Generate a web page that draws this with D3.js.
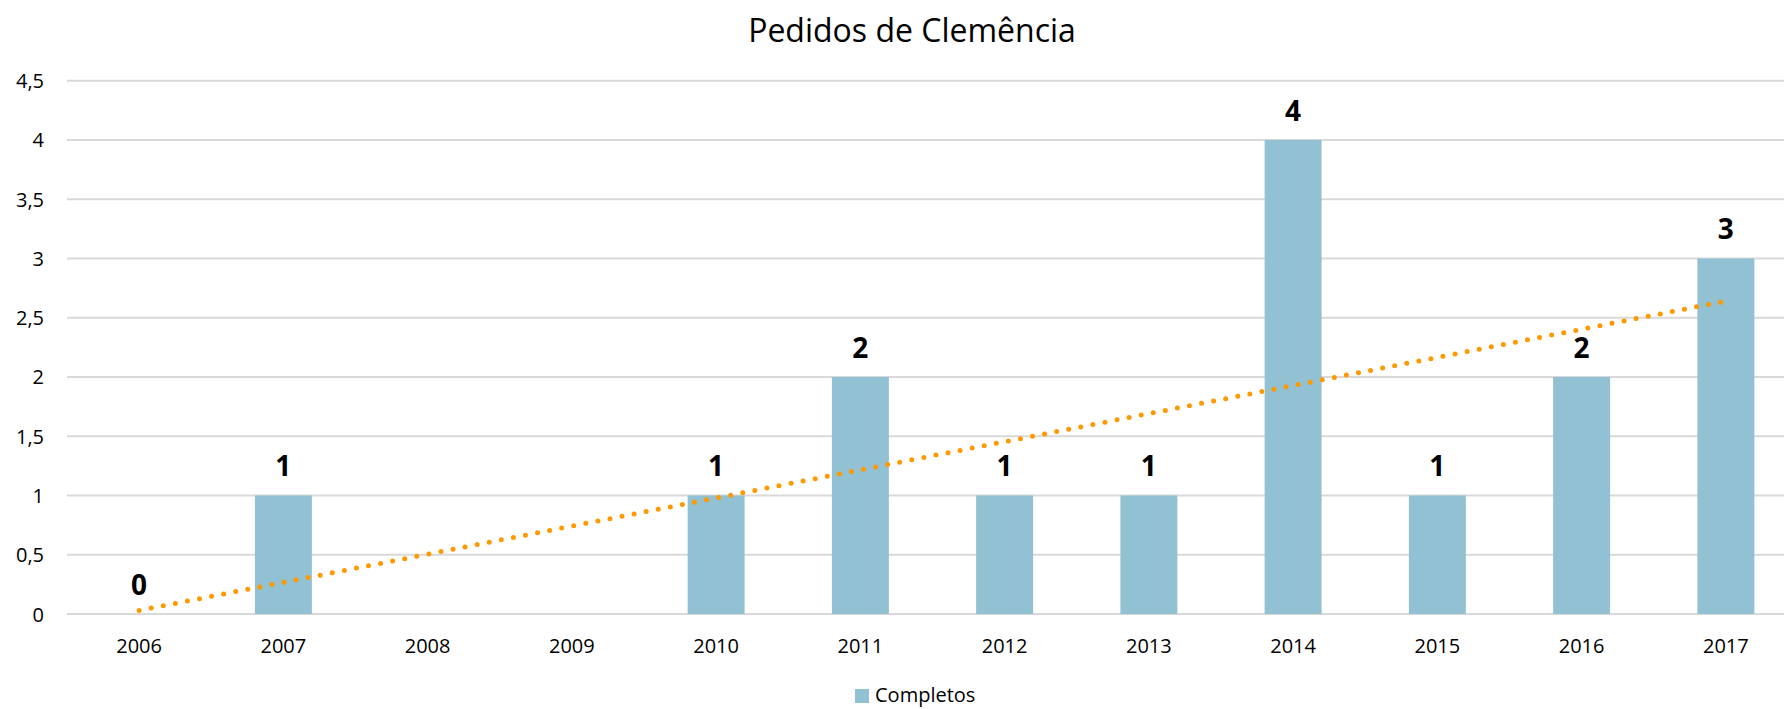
<!DOCTYPE html>
<html>
<head>
<meta charset="utf-8">
<script src="https://cdnjs.cloudflare.com/ajax/libs/d3/7.8.5/d3.min.js"></script>
<style>
  body { margin: 0; background: #fff; }
  svg text { font-family: "Open Sans", "Liberation Sans", sans-serif; fill: #000; }
</style>
</head>
<body>
<div id="chart"></div>
<script>
// datos
const years = ['2006','2007','2008','2009','2010','2011','2012','2013','2014','2015','2016','2017']
const completos = [0, 1, 0, 0, 1, 2, 1, 1, 4, 1, 2, 3]
const labelYears = ['2006','2007','2010','2011','2012','2013','2014','2015','2016','2017']
const yTicks = [0, 0.5, 1, 1.5, 2, 2.5, 3, 3.5, 4, 4.5]
// tendencia lineal (extremos)
const trendYears = ['2006', '2017']
const trendValues = [0.03, 2.64]

const width = 1784
const height = 709
const margin = { top: 80, right: -14, bottom: 95, left: 67 }

const svg = d3.select('#chart').append('svg').attr('width', width).attr('height', height)

const x = d3.scaleBand().domain(years).range([margin.left, width - margin.right]).paddingInner(0).paddingOuter(0)
const barW = x.bandwidth() * 0.395
const y = d3.scaleLinear().domain([0, 4.5]).range([height - margin.bottom, margin.top + 0.7])

// titulo
svg.append('text')
    .attr('x', 912).attr('y', 42)
    .attr('text-anchor', 'middle')
    .style('font-size', '32px')
    .text('Pedidos de Clemência')

// rejilla
const grid = svg.append('g').attr('class', 'grid')
grid.selectAll('line').data(yTicks).enter().append('line')
    .attr('x1', margin.left).attr('x2', width)
    .attr('y1', d => y(d)).attr('y2', d => y(d))
    .attr('stroke', '#d9d9d9').attr('stroke-width', 2)

// eje y
const yAxis = d3.axisLeft(y).tickValues(yTicks).tickSize(0).tickPadding(0)
    .tickFormat(d => String(d).replace('.', ','))
svg.append('g').attr('transform', `translate(44,0)`).call(yAxis)
    .call(g => g.select('.domain').remove())
    .call(g => g.selectAll('text').style('font-size', '20px').attr('dy', '0.35em'))

// eje x
const xAxis = d3.axisBottom(x).tickSize(0).tickPadding(0)
svg.append('g').attr('transform', `translate(0,${y(0) + 25})`).call(xAxis)
    .call(g => g.select('.domain').remove())
    .call(g => g.selectAll('text').style('font-size', '20px').attr('dy', '0.71em'))

// barras
const data = years.map((d, i) => ({ year: d, value: completos[i] }))
svg.append('g').selectAll('rect').data(data.filter(d => d.value > 0)).enter().append('rect')
    .attr('x', d => x(d.year) + (x.bandwidth() - barW) / 2)
    .attr('y', d => y(d.value))
    .attr('width', barW)
    .attr('height', d => y(0) - y(d.value))
    .attr('fill', '#92c1d3')

// etiquetas
svg.append('g').selectAll('text').data(data.filter(d => labelYears.includes(d.year))).enter().append('text')
    .attr('x', d => x(d.year) + x.bandwidth() / 2)
    .attr('y', d => y(d.value) - 19)
    .attr('text-anchor', 'middle')
    .style('font-size', '28px').style('font-weight', 'bold')
    .text(d => d.value)

// linea de tendencia
const trend = trendYears.map((d, i) => ({ year: d, value: trendValues[i] }))
svg.append('path').datum(trend)
    .attr('d', d3.line().x(d => x(d.year) + x.bandwidth() / 2).y(d => y(d.value)))
    .attr('fill', 'none')
    .attr('stroke', '#ff9900')
    .attr('stroke-width', 5)
    .attr('stroke-linecap', 'round')
    .attr('stroke-dasharray', '0 12.3')

// leyenda
const legend = svg.append('g').attr('transform', 'translate(855,689)')
legend.append('rect').attr('width', 14).attr('height', 14).attr('fill', '#92c1d3')
legend.append('text').attr('x', 20).attr('y', 13).style('font-size', '20px').text('Completos')
</script>
</body>
</html>
